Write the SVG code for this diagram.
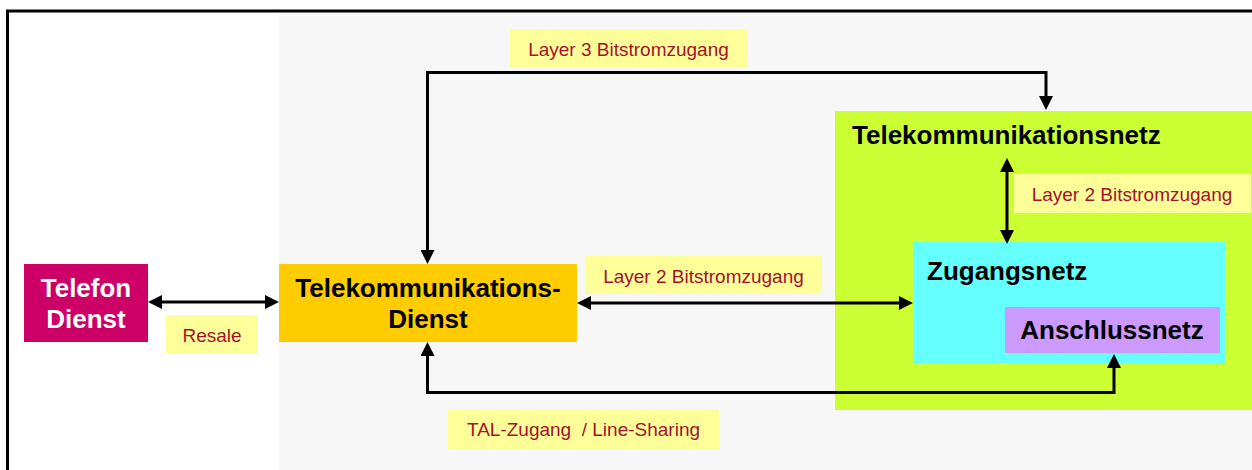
<svg xmlns="http://www.w3.org/2000/svg" width="1252" height="470" viewBox="0 0 1252 470">
<style>
.title{font-family:"Liberation Sans",Arial,sans-serif;font-weight:bold;font-size:26px;fill:#000}
.white{fill:#fff}
.lbl{font-family:"Liberation Sans",Arial,sans-serif;font-size:19px;fill:#A3122E}
.lblbox{fill:#FFFF99}
.conn{fill:none;stroke:#000;stroke-width:3}
</style>
<defs>
<marker id="ah" viewBox="0 0 14 14" refX="7" refY="7" markerWidth="14" markerHeight="14" markerUnits="userSpaceOnUse" orient="auto-start-reverse">
<path d="M0,0 L14,7 L0,14 z" fill="#000"/>
</marker>
</defs>
<rect x="0" y="0" width="1252" height="470" fill="#fff"/>
<rect x="279" y="12" width="973" height="458" fill="#F7F7F7"/>
<path d="M7.5,470 V11 H1252" fill="none" stroke="#000" stroke-width="3"/>

<g id="telekommunikationsnetz">
<rect x="835" y="111" width="417" height="299" fill="#CCFF33"/>
<text class="title" x="852" y="144">Telekommunikationsnetz</text>
</g>
<g id="zugangsnetz">
<rect x="913" y="242" width="312" height="121" fill="#66FFFF"/>
<text class="title" x="927" y="280">Zugangsnetz</text>
</g>
<g id="anschlussnetz">
<rect x="1005" y="307" width="215" height="46" fill="#CC99FF"/>
<text class="title" x="1112" y="339" text-anchor="middle">Anschlussnetz</text>
</g>
<g id="telefon-dienst">
<rect x="24" y="264" width="124" height="78" fill="#CC0066"/>
<text class="title white" x="86" y="297" text-anchor="middle">Telefon</text>
<text class="title white" x="86" y="328" text-anchor="middle">Dienst</text>
</g>
<g id="tk-dienst">
<rect x="279" y="264" width="298" height="78" fill="#FFCC00"/>
<text class="title" x="428" y="297" text-anchor="middle">Telekommunikations-</text>
<text class="title" x="428" y="328" text-anchor="middle">Dienst</text>
</g>

<g id="connectors">
<line class="conn" x1="155" y1="302" x2="272" y2="302" marker-start="url(#ah)" marker-end="url(#ah)"/>
<path class="conn" d="M427.5,257 V72.5 H1046 V103" marker-start="url(#ah)" marker-end="url(#ah)"/>
<line class="conn" x1="584" y1="303" x2="906" y2="303" marker-start="url(#ah)" marker-end="url(#ah)"/>
<line class="conn" x1="1007" y1="165" x2="1007" y2="237" marker-start="url(#ah)" marker-end="url(#ah)"/>
<path class="conn" d="M427.5,349 V392.5 H1114 V361" marker-start="url(#ah)" marker-end="url(#ah)"/>
</g>

<g id="label-layer3">
<rect class="lblbox" x="510" y="29" width="237" height="39"/>
<text class="lbl" x="628.5" y="56" text-anchor="middle">Layer 3 Bitstromzugang</text>
</g>
<g id="label-resale">
<rect class="lblbox" x="166" y="315" width="92" height="39"/>
<text class="lbl" x="212" y="342" text-anchor="middle">Resale</text>
</g>
<g id="label-layer2-mid">
<rect class="lblbox" x="585" y="256" width="237" height="38"/>
<text class="lbl" x="703.5" y="283" text-anchor="middle">Layer 2 Bitstromzugang</text>
</g>
<g id="label-layer2-right">
<rect class="lblbox" x="1014" y="174" width="237" height="39"/>
<text class="lbl" x="1132" y="201" text-anchor="middle">Layer 2 Bitstromzugang</text>
</g>
<g id="label-tal">
<rect class="lblbox" x="448" y="410" width="271" height="39"/>
<text class="lbl" x="583.5" y="436" text-anchor="middle" xml:space="preserve">TAL-Zugang  / Line-Sharing</text>
</g>
</svg>
